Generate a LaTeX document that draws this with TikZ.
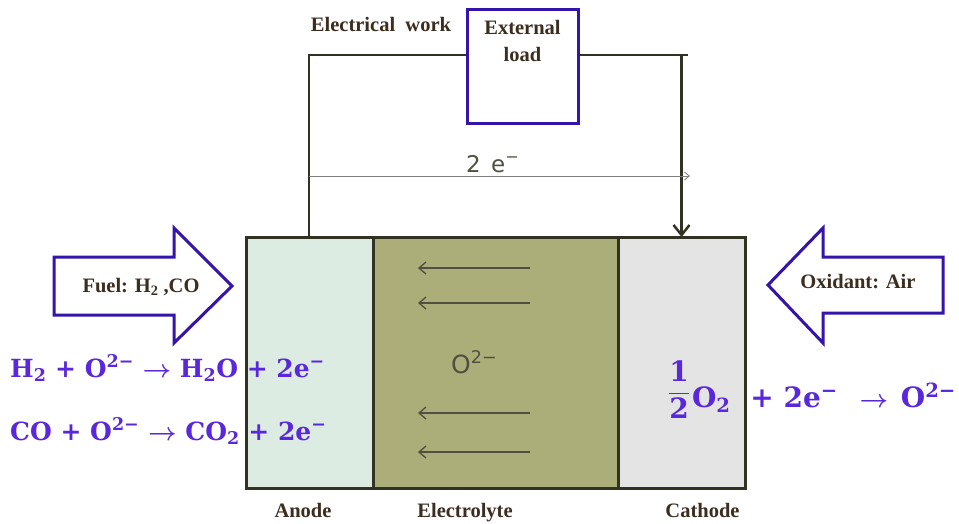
\documentclass[tikz,border=0pt]{standalone}
\usepackage{amsmath}
\usepackage{fontspec}
\setmainfont{Liberation Serif}
\newfontfamily\isofont{DejaVu Sans}
\newfontfamily\eqfont{DejaVu Serif}
\usetikzlibrary{arrows.meta,positioning}

\definecolor{anodefill}{RGB}{221,236,227}
\definecolor{electrofill}{RGB}{171,174,120}
\definecolor{cathodefill}{RGB}{228,228,228}
\definecolor{cellline}{RGB}{50,50,34}
\definecolor{loadblue}{RGB}{52,20,170}
\definecolor{eqblue}{RGB}{90,40,220}
\definecolor{labelbrown}{RGB}{60,45,30}
\definecolor{iongray}{RGB}{80,80,64}

\begin{document}
\begin{tikzpicture}[x=1pt,y=-1pt,
  cellpart/.style={draw=cellline,line width=3pt,minimum height=251pt,inner sep=0pt,outer sep=0pt},
  lbl/.style={text=labelbrown,font=\fontsize{20.5}{27}\selectfont\bfseries},
  eqn/.style={text=eqblue,font=\fontsize{25}{30}\selectfont\eqfont\bfseries\boldmath,anchor=base west,inner sep=0pt},
  iso/.style={text=iongray,anchor=base west,inner sep=0pt},
  wire/.style={draw=cellline,line width=2.5pt},
  bigarrow/.style={draw=loadblue,fill=white,line width=3pt,line join=miter},
  ionarrow/.style={draw=iongray,line width=1.3pt,-{Straight Barb[length=7pt,width=12pt]}}]
\useasboundingbox (0,0) rectangle (959,523);

% cell
\node[cellpart,fill=anodefill,minimum width=127pt] (anode) at (309.5,362.5) {};
\node[cellpart,fill=electrofill,minimum width=245pt,right=0pt of anode] (electrolyte) {};
\node[cellpart,fill=cathodefill,minimum width=127pt,right=0pt of electrolyte] (cathode) {};

\node[lbl,below=12pt of anode,xshift=-6.5pt] {Anode};
\node[lbl,below=12pt of electrolyte,xshift=-30.5pt] {Electrolyte};
\node[lbl,below=12pt of cathode,xshift=21pt] {Cathode};

% ions
\foreach \y in {268,303,413,452}
  \draw[ionarrow] (530,\y) -- (418,\y);
\node[iso,font=\fontsize{25}{28}\selectfont\isofont] (ion) at (451,373) {O\textsuperscript{2−}};

% external circuit
\coordinate (wiretop) at (0,55);
\node[draw=loadblue,line width=3pt,minimum width=111pt,minimum height=114pt,inner sep=0pt] (load) at (522.5,66.5) {};
\node[lbl,align=center,below=8.5pt of load.north] {External\\load};
\node[lbl] at (381,24) {Electrical\ \ work};
\draw[wire] ([xshift=63pt]anode.north west) |- (load.west |- wiretop);
\draw[wire] (load.east |- wiretop) -- (688,55);
\draw[wire,-{Straight Barb[length=10pt,width=16pt]}] (cathode.north |- wiretop) -- (cathode.north);

\coordinate (estart) at (309,176);
\coordinate (eend) at (690,176);
\draw[draw=gray,line width=0.8pt,-{Straight Barb[length=5pt,width=8pt]}] (estart) -- (eend);
\node[iso,font=\fontsize{23}{26}\selectfont\isofont] (elec) at (466,172) {2\hspace{0.45em}e\textsuperscript{−}};

% fuel and oxidant
\draw[bigarrow] (54,257) -- (174,257) -- (174,228) -- (232,286) -- (174,343) -- (174,315) -- (54,315) -- cycle;
\node[lbl] (fuel) at (141,287) {Fuel: H\textsubscript{2} ,CO};
\draw[bigarrow] (943,257) -- (823,257) -- (823,228) -- (768,285) -- (823,343) -- (823,313) -- (943,313) -- cycle;
\node[lbl] (oxidant) at (858,282) {Oxidant: Air};

% reactions
\node[eqn] (eqa) at (10,377) {H\textsubscript{2} + O\textsuperscript{2−} $\rightarrow$ H\textsubscript{2}O + 2e\textsuperscript{−}};
\node[eqn] (eqb) at (10,440) {CO + O\textsuperscript{2−} $\rightarrow$ CO\textsubscript{2} + 2e\textsuperscript{−}};
\node[eqn,font=\fontsize{28}{32}\selectfont\eqfont\bfseries\boldmath] (eqc) at (668,407)
  {\raisebox{7pt}{$\dfrac{\text{1}}{\text{2}}$}\hspace{2pt}O\textsubscript{2}\hspace{10pt} + 2e\textsuperscript{−}\hspace{12pt} $\rightarrow$\hspace{3pt} O\textsuperscript{2−}};
\end{tikzpicture}
\end{document}
